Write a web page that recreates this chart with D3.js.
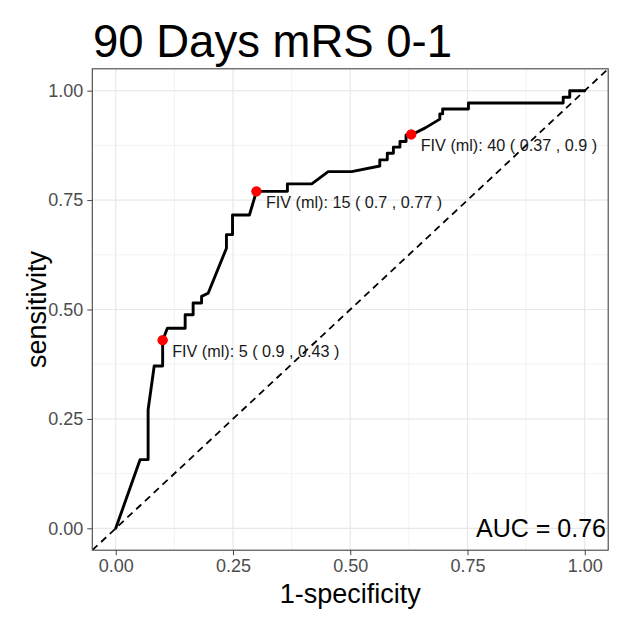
<!DOCTYPE html>
<html>
<head>
<meta charset="utf-8">
<script src="https://cdn.jsdelivr.net/npm/d3@7"></script>
<style>
  html, body { margin: 0; padding: 0; background: #ffffff; }
  svg { display: block; font-family: "Liberation Sans", Arial, sans-serif; }
</style>
</head>
<body>
<svg id="chart" width="621" height="620"></svg>
<script>
// ---- data ----
const rocFpr = [0, 0.052, 0.069, 0.069, 0.082, 0.100, 0.100, 0.110, 0.148, 0.148, 0.165, 0.165, 0.183, 0.183, 0.197,
  0.236, 0.236, 0.249, 0.249, 0.285, 0.300, 0.366, 0.366, 0.418, 0.453, 0.503, 0.563, 0.563, 0.579, 0.579,
  0.592, 0.592, 0.606, 0.606, 0.619, 0.619, 0.634, 0.660, 0.691, 0.691, 0.697, 0.697, 0.752, 0.752,
  0.954, 0.954, 0.968, 0.968, 1.0];
const rocTpr = [0, 0.157, 0.157, 0.271, 0.371, 0.371, 0.429, 0.457, 0.457, 0.488, 0.488, 0.515, 0.515, 0.530, 0.537,
  0.640, 0.671, 0.671, 0.716, 0.716, 0.770, 0.770, 0.787, 0.787, 0.815, 0.815, 0.828, 0.842, 0.842, 0.857,
  0.857, 0.871, 0.871, 0.884, 0.884, 0.899, 0.901, 0.915, 0.935, 0.947, 0.947, 0.958, 0.958, 0.972,
  0.972, 0.985, 0.985, 1.0, 1.0];
const cutThresholds = [5, 15, 40];
const cutSpecificity = [0.9, 0.7, 0.37];
const cutSensitivity = [0.43, 0.77, 0.9];
const xTicks = [0, 0.25, 0.5, 0.75, 1];
const yTicks = [0, 0.25, 0.5, 0.75, 1];
const xTickLabels = ["0.00", "0.25", "0.50", "0.75", "1.00"];
const yTickLabels = ["0.00", "0.25", "0.50", "0.75", "1.00"];
const minorTicks = [0.125, 0.375, 0.625, 0.875];
const titleText = "90 Days mRS 0-1";
const xTitle = "1-specificity";
const yTitle = "sensitivity";
const aucText = "AUC = 0.76";

// ---- layout ----
const svg = d3.select("#chart");
const P = { left: 92.3, right: 608.2, top: 68.8, bottom: 550.2 };
const x = d3.scaleLinear().domain([-0.05, 1.05]).range([P.left, P.right]);
const y = d3.scaleLinear().domain([-0.05, 1.05]).range([P.bottom, P.top]);

svg.append("clipPath").attr("id", "clip")
  .append("rect").attr("x", P.left).attr("y", P.top)
  .attr("width", P.right - P.left).attr("height", P.bottom - P.top);

// panel background
svg.append("rect").attr("x", P.left).attr("y", P.top)
  .attr("width", P.right - P.left).attr("height", P.bottom - P.top)
  .attr("fill", "#ffffff");

// grid
const grid = svg.append("g");
minorTicks.forEach(t => {
  grid.append("line").attr("x1", x(t)).attr("x2", x(t)).attr("y1", P.top).attr("y2", P.bottom)
    .attr("stroke", "#f0f0f0").attr("stroke-width", 0.8);
  grid.append("line").attr("y1", y(t)).attr("y2", y(t)).attr("x1", P.left).attr("x2", P.right)
    .attr("stroke", "#f0f0f0").attr("stroke-width", 0.8);
});
xTicks.forEach(t => {
  grid.append("line").attr("x1", x(t)).attr("x2", x(t)).attr("y1", P.top).attr("y2", P.bottom)
    .attr("stroke", "#e8e8e8").attr("stroke-width", 1.2);
});
yTicks.forEach(t => {
  grid.append("line").attr("y1", y(t)).attr("y2", y(t)).attr("x1", P.left).attr("x2", P.right)
    .attr("stroke", "#e8e8e8").attr("stroke-width", 1.2);
});

// diagonal reference line
svg.append("line")
  .attr("clip-path", "url(#clip)")
  .attr("x1", x(-0.05)).attr("y1", y(-0.05)).attr("x2", x(1.05)).attr("y2", y(1.05))
  .attr("stroke", "#000").attr("stroke-width", 1.8).attr("stroke-dasharray", "7,5");

// ROC curve
const pts = rocFpr.map((f, i) => [f, rocTpr[i]]);
svg.append("path")
  .attr("d", d3.line().x(d => x(d[0])).y(d => y(d[1]))(pts))
  .attr("fill", "none").attr("stroke", "#000").attr("stroke-width", 2.9)
  .attr("stroke-linejoin", "round").attr("stroke-linecap", "round");

// cutoff points
cutThresholds.forEach((th, i) => {
  const fx = 1 - cutSpecificity[i], sy = cutSensitivity[i];
  svg.append("circle").attr("cx", x(fx)).attr("cy", y(sy)).attr("r", 5.2).attr("fill", "#ff0000");
  svg.append("text").attr("x", x(fx) + 9.5).attr("y", y(sy) + 16.5)
    .attr("font-size", 16.2).attr("fill", "#1a1a1a")
    .text(`FIV (ml): ${th} ( ${cutSpecificity[i]} , ${cutSensitivity[i]} )`);
});

// AUC
svg.append("text").attr("x", 606).attr("y", 537).attr("text-anchor", "end")
  .attr("font-size", 25).attr("fill", "#000").text(aucText);

// panel border
svg.append("rect").attr("x", P.left).attr("y", P.top)
  .attr("width", P.right - P.left).attr("height", P.bottom - P.top)
  .attr("fill", "none").attr("stroke", "#444").attr("stroke-width", 1.1);

// axes
const xAxis = d3.axisBottom(x).tickValues(xTicks).tickFormat((d, i) => xTickLabels[i]).tickSize(5).tickPadding(4);
const gx = svg.append("g").attr("transform", `translate(0,${P.bottom})`).call(xAxis);
gx.select(".domain").remove();
gx.selectAll("line").attr("stroke", "#444");
gx.selectAll("text").attr("font-size", 18).attr("fill", "#4d4d4d")
  .attr("font-family", "Liberation Sans, Arial, sans-serif");

const yAxis = d3.axisLeft(y).tickValues(yTicks).tickFormat((d, i) => yTickLabels[i]).tickSize(5).tickPadding(4);
const gy = svg.append("g").attr("transform", `translate(${P.left},0)`).call(yAxis);
gy.select(".domain").remove();
gy.selectAll("line").attr("stroke", "#444");
gy.selectAll("text").attr("font-size", 18).attr("fill", "#4d4d4d")
  .attr("font-family", "Liberation Sans, Arial, sans-serif");

// titles
svg.append("text").attr("x", 93).attr("y", 57).attr("font-size", 45.5).attr("fill", "#000").text(titleText);
svg.append("text").attr("x", (P.left + P.right) / 2).attr("y", 603).attr("text-anchor", "middle")
  .attr("font-size", 27).attr("fill", "#000").text(xTitle);
svg.append("text").attr("transform", `translate(46,${(P.top + P.bottom) / 2}) rotate(-90)`)
  .attr("text-anchor", "middle").attr("font-size", 27).attr("fill", "#000").text(yTitle);
</script>
</body>
</html>
